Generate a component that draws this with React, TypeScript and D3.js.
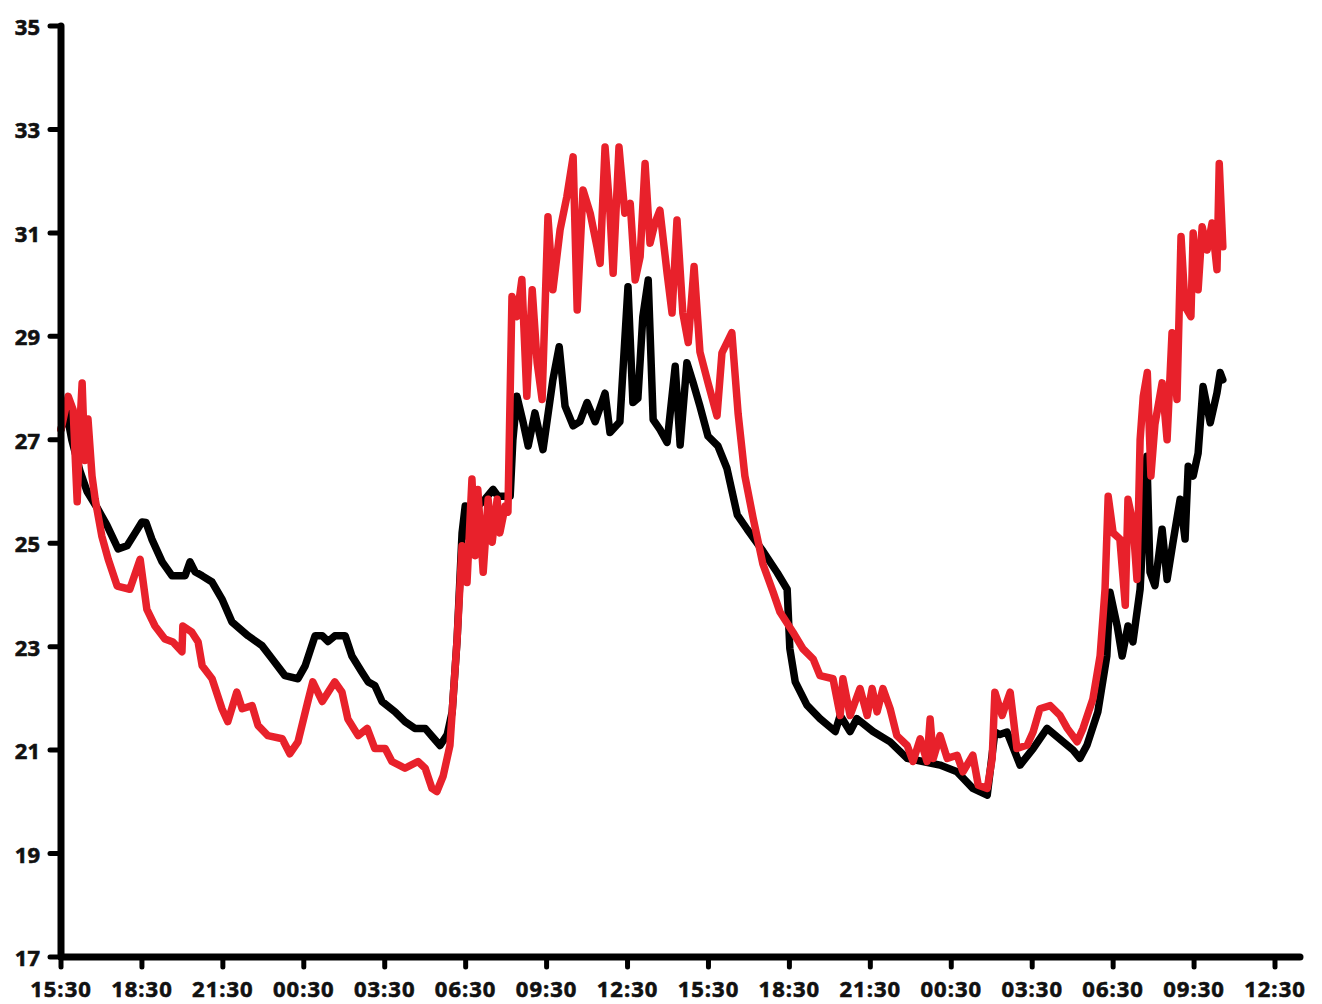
import React from "react";
import * as d3 from "d3";

// Elapsed minutes since the first reading (15:30) and temperatures (°C)
const blackMinutes = [
  0, 11, 24, 42, 58, 82, 102, 127, 147, 165, 180, 189, 202, 225, 247, 276, 287, 298, 314, 336,
  358, 380, 416, 447, 469, 498, 527, 543, 565, 581, 594, 609, 632, 647, 669, 683, 698, 714, 743, 765,
  787, 810, 827, 843, 859, 870, 881, 892, 899, 903, 910, 925, 943, 961, 972, 999, 1005, 1014, 1028, 1039,
  1054, 1072, 1094, 1108, 1121, 1139, 1154, 1170, 1188, 1210, 1221, 1243, 1261, 1272, 1283, 1294, 1306, 1317, 1332, 1348,
  1366, 1377, 1392, 1406, 1421, 1439, 1461, 1481, 1504, 1526, 1561, 1593, 1615, 1621, 1633, 1659, 1688, 1722, 1733, 1755,
  1770, 1806, 1844, 1882, 1917, 1955, 1993, 2028, 2060, 2077, 2088, 2104, 2133, 2162, 2193, 2229, 2251, 2266, 2282, 2306,
  2326, 2333, 2349, 2360, 2373, 2384, 2400, 2415, 2422, 2433, 2449, 2460, 2473, 2489, 2500, 2507, 2518, 2529, 2540, 2556,
  2571, 2578, 2584,
];
const blackTemps = [
  27.2, 27.6, 27.0, 26.4, 26.0, 25.66, 25.35, 24.89, 24.95, 25.2, 25.41, 25.4, 25.08, 24.64, 24.37, 24.37, 24.64, 24.45, 24.37, 24.25,
  23.92, 23.48, 23.21, 23.02, 22.77, 22.44, 22.38, 22.63, 23.21, 23.21, 23.1, 23.21, 23.21, 22.82, 22.51, 22.32, 22.25, 21.94, 21.74, 21.55,
  21.42, 21.42, 21.25, 21.09, 21.3, 21.74, 23.15, 25.2, 25.72, 25.14, 25.3, 25.7, 25.85, 26.04, 25.91, 25.91, 27.0, 27.84, 27.33, 26.88,
  27.52, 26.81, 28.16, 28.8, 27.65, 27.27, 27.35, 27.72, 27.35, 27.9, 27.14, 27.35, 29.96, 27.72, 27.8, 29.38, 30.09, 27.39, 27.2, 26.95,
  28.42, 26.9, 28.49, 28.1, 27.65, 27.07, 26.88, 26.45, 25.55, 25.27, 24.85, 24.43, 24.11, 22.96, 22.32, 21.87, 21.61, 21.36, 21.67, 21.36,
  21.61, 21.36, 21.16, 20.84, 20.78, 20.71, 20.58, 20.26, 20.13, 21.35, 21.3, 21.35, 20.71, 21.03, 21.42, 21.16, 21.0, 20.84, 21.1, 21.74,
  22.82, 24.05, 23.4, 22.82, 23.4, 23.09, 24.11, 26.68, 24.44, 24.18, 25.27, 24.3, 25.01, 25.85, 25.08, 26.49, 26.3, 26.74, 28.03, 27.33,
  27.91, 28.3, 28.16,
];

const redMinutes = [
  0, 16, 27, 36, 42, 47, 53, 60, 69, 76, 91, 105, 125, 153, 176, 191, 209, 231, 249, 269,
  271, 291, 305, 314, 336, 358, 371, 391, 403, 425, 438, 460, 492, 509, 527, 549, 560, 581, 609, 625,
  638, 661, 681, 698, 721, 736, 765, 794, 810, 825, 836, 850, 865, 881, 892, 903, 914, 921, 927, 939,
  950, 959, 970, 976, 988, 994, 1003, 1014, 1025, 1036, 1048, 1059, 1070, 1083, 1094, 1110, 1125, 1139, 1148, 1161,
  1177, 1192, 1199, 1210, 1221, 1228, 1241, 1254, 1266, 1277, 1288, 1299, 1310, 1321, 1332, 1348, 1359, 1370, 1383, 1395,
  1408, 1421, 1439, 1459, 1470, 1492, 1506, 1521, 1539, 1561, 1584, 1599, 1628, 1650, 1673, 1688, 1717, 1733, 1739, 1755,
  1777, 1793, 1804, 1815, 1828, 1844, 1859, 1882, 1895, 1911, 1926, 1933, 1940, 1955, 1971, 1993, 2006, 2028, 2040, 2060,
  2071, 2077, 2093, 2111, 2126, 2149, 2162, 2177, 2200, 2222, 2238, 2260, 2273, 2295, 2311, 2322, 2329, 2340, 2355, 2367,
  2373, 2384, 2393, 2400, 2407, 2416, 2424, 2433, 2449, 2460, 2471, 2482, 2491, 2500, 2513, 2518, 2529, 2538, 2549, 2560,
  2571, 2576, 2584,
];
const redTemps = [
  27.2, 27.84, 27.58, 25.8, 27.26, 28.1, 26.6, 27.4, 26.3, 25.85, 25.13, 24.69, 24.17, 24.11, 24.69, 23.72, 23.4, 23.15, 23.09, 22.9,
  23.4, 23.28, 23.09, 22.63, 22.38, 21.8, 21.55, 22.12, 21.8, 21.86, 21.48, 21.28, 21.22, 20.93, 21.16, 21.94, 22.32, 21.94, 22.32, 22.12,
  21.6, 21.28, 21.42, 21.03, 21.03, 20.78, 20.65, 20.78, 20.65, 20.26, 20.2, 20.5, 21.09, 23.15, 24.95, 24.24, 26.24, 24.76, 26.04, 24.44,
  25.85, 25.02, 25.85, 25.2, 25.72, 25.6, 29.77, 29.38, 30.1, 27.84, 29.9, 28.49, 27.78, 31.31, 29.9, 31.06, 31.7, 32.47, 29.51, 31.83,
  31.38, 30.73, 30.41, 32.66, 31.38, 30.22, 32.66, 31.38, 31.57, 30.09, 30.54, 32.34, 30.8, 31.19, 31.44, 30.22, 29.45, 31.25, 29.45, 28.88,
  30.35, 28.7, 28.1, 27.46, 28.68, 29.07, 27.5, 26.3, 25.5, 24.6, 24.05, 23.67, 23.28, 22.96, 22.76, 22.44, 22.38, 21.67, 22.38, 21.67,
  22.19, 21.67, 22.19, 21.74, 22.19, 21.8, 21.28, 21.09, 20.78, 21.22, 20.78, 21.6, 20.84, 21.28, 20.84, 20.9, 20.58, 20.9, 20.32, 20.26,
  20.84, 22.12, 21.67, 22.12, 21.03, 21.1, 21.35, 21.8, 21.86, 21.67, 21.42, 21.16, 21.42, 21.99, 22.82, 24.11, 25.91, 25.2, 25.08, 23.8,
  25.85, 25.4, 24.3, 27.0, 27.84, 28.3, 26.3, 27.3, 28.1, 27.0, 29.07, 27.78, 30.93, 29.58, 29.38, 31.0, 29.9, 31.12, 30.67, 31.19,
  30.29, 32.34, 30.73,
];

// Axis ticks
const xTickLabels = [
  "15:30", "18:30", "21:30", "00:30", "03:30", "06:30", "09:30", "12:30",
  "15:30", "18:30", "21:30", "00:30", "03:30", "06:30", "09:30", "12:30",
];
const yTickValues = [17, 19, 21, 23, 25, 27, 29, 31, 33, 35];

const WIDTH = 1322;
const HEIGHT = 1004;
const X0 = 61;
const X_LAST_TICK = 1275;
const X_AXIS_END = 1300;
const Y_TOP = 26;
const Y_BOTTOM = 957;

const STEP = 180; // minutes between ticks
const x = d3.scaleLinear().domain([0, STEP * (xTickLabels.length - 1)]).range([X0, X_LAST_TICK]);
const y = d3.scaleLinear().domain([17, 35]).range([Y_BOTTOM, Y_TOP]);

type Pt = [number, number];
const zip = (ts: number[], vs: number[]): Pt[] => ts.map((t, i) => [t, vs[i]]);

const line = d3
  .line<Pt>()
  .x((d) => x(d[0]))
  .y((d) => y(d[1]));

const fontFamily = "'Open Sans', 'Noto Sans', sans-serif";
const labelStyle = {
  fontFamily,
  fontWeight: 700,
  fontSize: 22,
  fill: "#111",
  stroke: "#111",
  strokeWidth: 0.6,
} as const;

export default function App() {
  const blackPath = line(zip(blackMinutes, blackTemps)) ?? "";
  const redPath = line(zip(redMinutes, redTemps)) ?? "";

  return (
    <svg
      width={WIDTH}
      height={HEIGHT}
      viewBox={`0 0 ${WIDTH} ${HEIGHT}`}
      style={{ position: "absolute", left: 0, top: 0, background: "#fff" }}
    >
      {/* data lines */}
      <path
        d={blackPath}
        fill="none"
        stroke="#000"
        strokeWidth={7.5}
        strokeLinejoin="round"
        strokeLinecap="round"
      />
      <path
        d={redPath}
        fill="none"
        stroke="#E8212B"
        strokeWidth={7.5}
        strokeLinejoin="round"
        strokeLinecap="round"
      />

      {/* y axis */}
      <line x1={X0} x2={X0} y1={Y_TOP} y2={Y_BOTTOM} stroke="#000" strokeWidth={7} strokeLinecap="round" />
      {yTickValues.map((v) => (
        <g key={v}>
          <line x1={X0 - 11} x2={X0} y1={y(v)} y2={y(v)} stroke="#000" strokeWidth={5} strokeLinecap="round" />
          <text x={40} y={y(v)} textAnchor="end" dominantBaseline="central" style={labelStyle}>
            {v}
          </text>
        </g>
      ))}

      {/* x axis */}
      <line x1={X0} x2={X_AXIS_END} y1={Y_BOTTOM} y2={Y_BOTTOM} stroke="#000" strokeWidth={7} strokeLinecap="round" />
      {xTickLabels.map((lab, i) => {
        const xx = x(i * STEP);
        return (
          <g key={i}>
            <line x1={xx} x2={xx} y1={Y_BOTTOM} y2={Y_BOTTOM + 10} stroke="#000" strokeWidth={5} strokeLinecap="round" />
            <text x={xx} y={997} textAnchor="middle" letterSpacing={1} style={labelStyle}>
              {lab}
            </text>
          </g>
        );
      })}
    </svg>
  );
}
